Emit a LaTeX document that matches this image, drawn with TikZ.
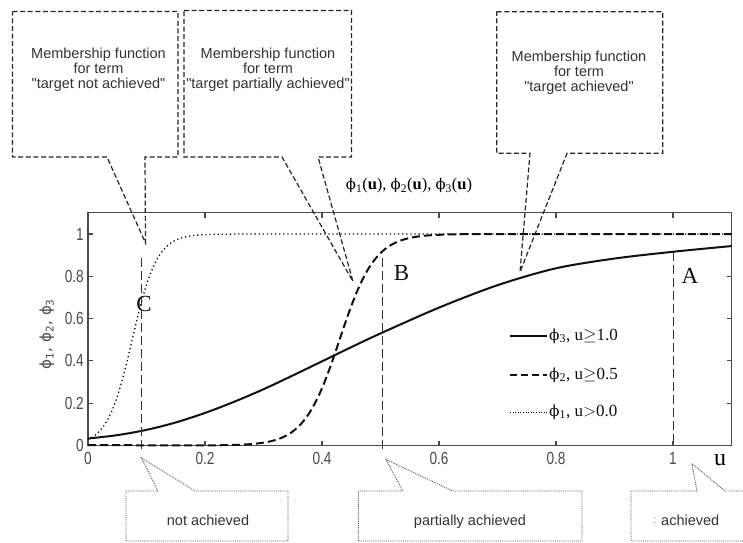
\documentclass[tikz,border=0pt]{standalone}
\usepackage{fontspec}
\usepackage{graphicx}
\setmainfont{Liberation Serif}
\newfontfamily\arialf{Liberation Sans}
\newfontfamily\dejavuf{DejaVu Sans}
\newfontfamily\dejavuserif{DejaVu Serif}
\newcommand{\vphisym}{{\dejavuserif\fontsize{0.9em}{1em}\selectfont ϕ}}
\definecolor{boxline}{HTML}{262626}
\definecolor{dotgray}{HTML}{555555}
\definecolor{textgray}{HTML}{333333}
\definecolor{framegray}{HTML}{4A4A4A}
\definecolor{curveblack}{HTML}{111111}
\tikzset{
  callout/.style={draw=boxline, line width=1.2pt, dash pattern=on 5pt off 2.6pt, line join=miter},
  dotcallout/.style={draw=dotgray, line width=0.9pt, dash pattern=on 0.9pt off 1pt},
  boxtext/.style={font=\arialf\fontsize{14.5}{15}\selectfont, text=textgray, align=center, inner sep=0pt},
  frameline/.style={draw=framegray, line width=1.1pt},
  ticklab/.style={font=\arialf\fontsize{17.5}{17.5}\selectfont, text=framegray, inner sep=0pt},
  phione/.style={draw=curveblack, line width=1.3pt, dash pattern=on 1.3pt off 2.8pt},
  phitwo/.style={draw=curveblack, line width=2pt, dash pattern=on 8pt off 4pt},
  phithree/.style={draw=curveblack, line width=2pt},
  guide/.style={draw=textgray, line width=0.8pt, dash pattern=on 9pt off 4pt},
  legtext/.style={font=\fontsize{17}{17}\selectfont, text=curveblack, anchor=west, inner sep=0pt},
  letter/.style={font=\fontsize{23}{23}\selectfont, text=curveblack, inner sep=0pt}
}
\begin{document}
\begin{tikzpicture}[x=1pt,y=-1pt]
\clip (0,0) rectangle (743,542);
\fill[white] (0,0) rectangle (743,542);

% ---------- plot ----------
\begin{scope}[shift={(88,445.5)}, x=585pt, y=211.5pt]
  \draw[frameline] (0,0) rectangle (1.1,1.1);
  \foreach \t in {0.2,0.4,0.6,0.8,1} {
    \draw[frameline] (\t,0) -- ++(0pt,5pt);
    \draw[frameline] (\t,1.1) -- ++(0pt,-5pt);
    \draw[frameline] (0,\t) -- ++(5pt,0pt);
    \draw[frameline] (1.1,\t) -- ++(-5pt,0pt);
  }
  \foreach \t/\l in {0/0,0.2/0.2,0.4/0.4,0.6/0.6,0.8/0.8,1/1} {
    \node[ticklab] (xl\l) at ([yshift=-13pt]\t,0) {\scalebox{0.78}[1]{\l}};
    \node[ticklab, anchor=east] (yl\l) at ([xshift=-4pt]0,\t) {\scalebox{0.78}[1]{\l}};
  }
  % curves
  \draw[phione] plot[domain=0:0.36, samples=180] (\x,{1/(1+exp(-47*(\x-0.0755)))}) -- (1.1,1);
  \draw[phitwo] (0,0.002) -- plot[domain=0.18:0.8, samples=160] (\x,{1/(1+exp(-33*(\x-0.43)))}) -- (1.1,1);
  \draw[phithree] plot[smooth] coordinates {(0,0.033) (0.05,0.049) (0.1,0.074) (0.15,0.109) (0.2,0.154) (0.25,0.207) (0.3,0.266) (0.35,0.331) (0.4,0.398) (0.45,0.465) (0.5,0.53) (0.6,0.652) (0.7,0.758) (0.8,0.838) (0.9,0.884) (1.0,0.916) (1.1,0.943)};
  % guide lines
  \coordinate (gC) at (0.092,0.885);
  \coordinate (gCb) at (0.092,-0.035);
  \coordinate (gB) at (0.504,0.885);
  \coordinate (gBb) at (0.504,-0.035);
  \coordinate (gA) at (1.0,0.916);
  \coordinate (gAb) at (1.0,-0.005);
  \draw[guide] (gC) -- (gCb);
  \draw[guide] (gB) -- (gBb);
  \draw[guide] (gA) -- (gAb);
\end{scope}

% letters
\node[letter] (C) at (144,304) {C};
\node[letter] (B) at (401.5,272.5) {B};
\node[letter] (A) at (690,275.5) {A};
\node[font=\fontsize{24}{24}\selectfont, inner sep=0pt] (u) at (720,460) {u};

% title
\node[font=\fontsize{16.5}{16.5}\selectfont, inner sep=0pt] (title) at (409,185.5)
  {\vphisym\textsubscript{1}(\textbf{u}), \vphisym\textsubscript{2}(\textbf{u}), \vphisym\textsubscript{3}(\textbf{u})};

% y label
\node[rotate=90, font=\dejavuf\fontsize{15}{15}\selectfont, text=framegray, inner sep=0pt] (ylab) at (46.7,334)
  {ϕ\textsubscript{1}, ϕ\textsubscript{2}, ϕ\textsubscript{3}};

% legend
\coordinate (l1a) at (510,336); \coordinate (l1b) at (547,336);
\coordinate (l2a) at (510,375); \coordinate (l2b) at (547,375);
\coordinate (l3a) at (510,412); \coordinate (l3b) at (547,412);
\draw[phithree] (l1a) -- (l1b);
\draw[phitwo, dash pattern=on 7pt off 4pt] (l2a) -- (l2b);
\draw[phione, line width=1pt, dash pattern=on 1pt off 1.6pt] (l3a) -- (l3b);
\node[legtext] (leg1) at (549,336) {\vphisym\textsubscript{3}, u$\geq$1.0};
\node[legtext] (leg2) at (549,375) {\vphisym\textsubscript{2}, u$\geq$0.5};
\node[legtext] (leg3) at (549,412) {\vphisym\textsubscript{1}, u$>$0.0};

% ---------- top callouts ----------
\coordinate (t1) at (145.5,243);
\coordinate (t2) at (353,281.5);
\coordinate (t3) at (520,272);
\draw[callout] (12.5,11.5) -- (178,11.5) -- (178,157) -- (145,157) -- (t1) -- (107,157) -- (12.5,157) -- cycle;
\draw[callout] (184,10.5) -- (351.5,10.5) -- (351.5,157) -- (318,157) -- (t2) -- (282,157) -- (184,157) -- cycle;
\draw[callout] (496.7,11.7) -- (662.7,11.7) -- (662.7,153.3) -- (567,153.3) -- (t3) -- (530,153.3) -- (496.7,153.3) -- cycle;
\node[boxtext] (m1) at (98.5,70) {Membership function\\for term\\"target not achieved"};
\node[boxtext] (m2) at (268,70) {Membership function\\for term\\"target partially achieved"};
\node[boxtext] (m3) at (579,72.5) {Membership function\\for term\\"target achieved"};

% ---------- bottom callouts ----------
\coordinate (b1) at (141.5,458);
\coordinate (b2) at (386,459.5);
\coordinate (b3) at (691.7,463.5);
\draw[dotcallout] (126,491) -- (158,491) -- (b1) -- (195,491) -- (288,491) -- (288,541) -- (126,541) -- cycle;
\draw[dotcallout] (358.3,491) -- (402.7,491) -- (b2) -- (452.7,491) -- (582,491) -- (582,541) -- (358.3,541) -- cycle;
\draw[dotcallout] (631,491) -- (697,491) -- (b3) -- (725,491) -- (760,491) -- (760,541) -- (631,541) -- cycle;
\node[boxtext, anchor=base] (n1) at (208,525) {not achieved};
\node[boxtext, anchor=base] (n2) at (470,525) {partially achieved};
\node[boxtext, anchor=base west] (n3) at (661,525) {achieved};
\node[boxtext, anchor=base, text=gray, font=\arialf\fontsize{11}{11}\selectfont] (n3c) at (655,523) {:};
\end{tikzpicture}
\end{document}
